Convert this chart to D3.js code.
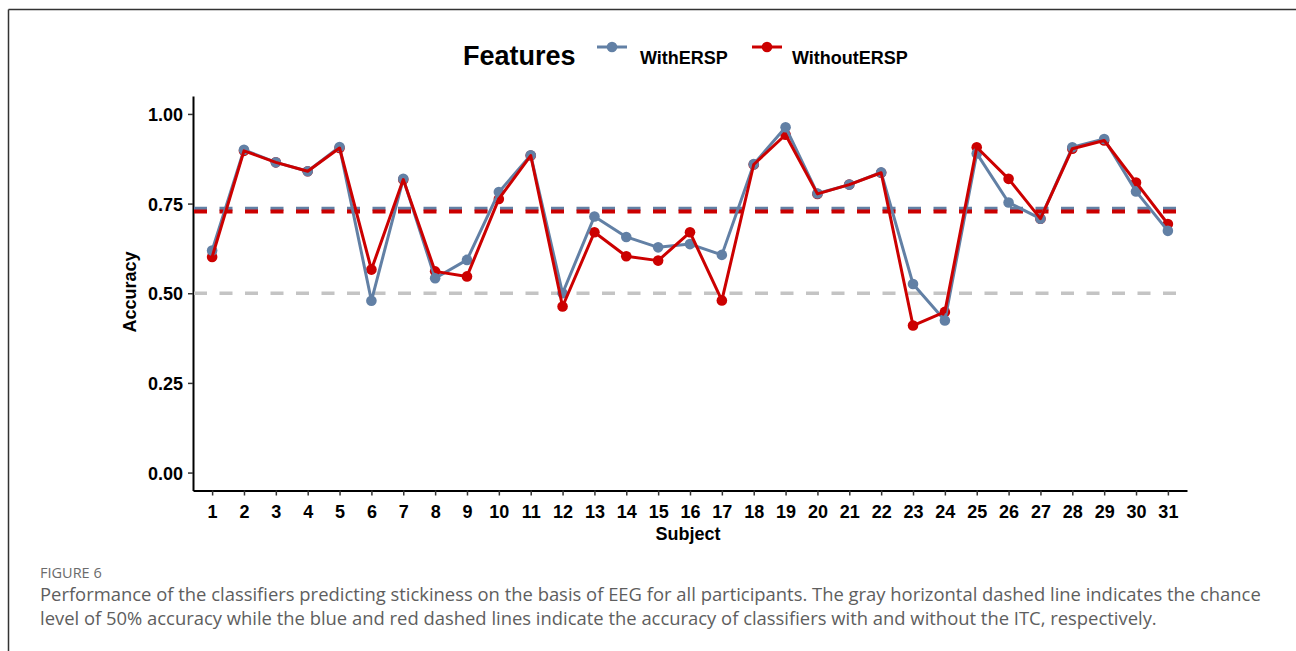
<!DOCTYPE html>
<html>
<head>
<meta charset="utf-8">
<script src="https://cdn.jsdelivr.net/npm/d3@7"></script>
<style>
  body { margin: 0; background: #fff; }
  svg { display: block; }
  text { font-family: "Liberation Sans", Arial, sans-serif; }
</style>
</head>
<body>
<div id="chart"></div>
<script>
// subjects on the x axis
var subjects = d3.range(1, 32).map(String);

// accuracy per subject
var withERSP = [0.619, 0.900, 0.865, 0.840, 0.908, 0.479, 0.819, 0.542, 0.593, 0.782,
                0.885, 0.500, 0.714, 0.657, 0.628, 0.637, 0.607, 0.860, 0.963, 0.778,
                0.803, 0.837, 0.526, 0.424, 0.890, 0.753, 0.708, 0.907, 0.930, 0.784, 0.674];
var withoutERSP = [0.601, 0.897, 0.865, 0.840, 0.905, 0.566, 0.817, 0.561, 0.547, 0.763,
                   0.884, 0.463, 0.670, 0.603, 0.591, 0.670, 0.480, 0.859, 0.942, 0.777,
                   0.803, 0.836, 0.410, 0.448, 0.907, 0.819, 0.708, 0.903, 0.926, 0.809, 0.693];

var yTicks = [0, 0.25, 0.5, 0.75, 1];
var chanceLevel = 0.5;

var seriesNames = ["WithERSP", "WithoutERSP"];
var seriesColors = ["#6280a5", "#cc0000"];

var captionHead = "FIGURE 6";
var captionLines = [
  "Performance of the classifiers predicting stickiness on the basis of EEG for all participants. The gray horizontal dashed line indicates the chance",
  "level of 50% accuracy while the blue and red dashed lines indicate the accuracy of classifiers with and without the ITC, respectively."
];

var width = 1296, height = 651;

var svg = d3.select("#chart")
    .append("svg")
    .attr("width", width)
    .attr("height", height);

// frame lines (top and left)
svg.append("line").attr("x1", 8.5).attr("x2", width).attr("y1", 9.5).attr("y2", 9.5)
    .attr("stroke", "#333").attr("stroke-width", 1.5);
svg.append("line").attr("x1", 8.5).attr("x2", 8.5).attr("y1", 9.5).attr("y2", height)
    .attr("stroke", "#333").attr("stroke-width", 1.5);

// scales
var x = d3.scalePoint()
    .domain(subjects)
    .range([193, 1187])
    .padding(0.6);

var y = d3.scaleLinear()
    .domain([-0.05, 1.05])
    .range([490.5, 96]);

// axes
var xAxis = svg.append("g")
    .attr("transform", "translate(0," + 490.5 + ")")
    .call(d3.axisBottom(x).tickSize(5).tickSizeOuter(0).tickPadding(6));

var yAxis = svg.append("g")
    .attr("transform", "translate(" + 193 + ",0)")
    .call(d3.axisLeft(y).tickValues(yTicks).tickFormat(d3.format(".2f")).tickSize(5).tickSizeOuter(0).tickPadding(5));

[xAxis, yAxis].forEach(function(ax) {
    ax.select(".domain").attr("stroke", "#000").attr("stroke-width", 2);
    ax.selectAll(".tick line").attr("stroke", "#333").attr("stroke-width", 1.5);
    ax.selectAll(".tick text")
        .attr("fill", "#000")
        .style("font-size", "18px")
        .style("font-weight", "bold")
        .style("font-family", "Liberation Sans, Arial, sans-serif");
});
xAxis.selectAll(".tick text").attr("dy", "0.92em");
yAxis.selectAll(".tick text").attr("dy", "0.36em");

// axis titles
svg.append("text")
    .attr("x", 688).attr("y", 540)
    .attr("text-anchor", "middle")
    .style("font-size", "18px").style("font-weight", "bold")
    .text("Subject");

svg.append("text")
    .attr("transform", "translate(136,292) rotate(-90)")
    .attr("text-anchor", "middle")
    .style("font-size", "18px").style("font-weight", "bold")
    .text("Accuracy");

// reference lines: chance level and per-series means
var x0 = x.range()[0], x1 = x.range()[1];

svg.append("line")
    .attr("x1", x0 + 1).attr("x2", x1)
    .attr("y1", y(chanceLevel)).attr("y2", y(chanceLevel))
    .attr("stroke", "#c4c4c4").attr("stroke-width", 3.5)
    .attr("stroke-dasharray", "13,12.5");

var allSeries = [withERSP, withoutERSP];
allSeries.forEach(function(vals, i) {
    var m = d3.mean(vals);
    svg.append("line")
        .attr("x1", x0 + 1).attr("x2", x1)
        .attr("y1", y(m)).attr("y2", y(m))
        .attr("stroke", seriesColors[i]).attr("stroke-width", 4)
        .attr("stroke-dasharray", "13,12.5");
});

var line = d3.line()
    .x(function(d, i) { return x(subjects[i]); })
    .y(function(d) { return y(d); });

// points first (red below blue), then lines (blue, then red on top)
[1, 0].forEach(function(i) {
    svg.append("g").selectAll("circle")
        .data(allSeries[i])
        .enter()
        .append("circle")
        .attr("cx", function(d, j) { return x(subjects[j]); })
        .attr("cy", function(d) { return y(d); })
        .attr("r", 5.3)
        .attr("fill", seriesColors[i]);
});

[0, 1].forEach(function(i) {
    svg.append("path")
        .datum(allSeries[i])
        .attr("d", line)
        .attr("fill", "none")
        .attr("stroke", seriesColors[i])
        .attr("stroke-width", 3)
        .attr("stroke-linejoin", "round");
});

// legend
var legend = svg.append("g");
legend.append("text")
    .attr("x", 463).attr("y", 65)
    .style("font-size", "27px").style("font-weight", "bold")
    .text("Features");

var keyX = [597, 752];
var labelX = [640, 792];
seriesNames.forEach(function(name, i) {
    legend.append("line")
        .attr("x1", keyX[i]).attr("x2", keyX[i] + 30)
        .attr("y1", 47).attr("y2", 47)
        .attr("stroke", seriesColors[i]).attr("stroke-width", 3);
    legend.append("circle")
        .attr("cx", keyX[i] + 15).attr("cy", 47).attr("r", 5.3)
        .attr("fill", seriesColors[i]);
    legend.append("text")
        .attr("x", labelX[i]).attr("y", 64)
        .style("font-size", "18px").style("font-weight", "bold")
        .text(name);
});

// caption
svg.append("text")
    .attr("x", 40).attr("y", 578)
    .attr("fill", "#6b6b6b")
    .style("font-family", "'Open Sans', 'Noto Sans', sans-serif")
    .style("font-size", "14.5px")
    .text(captionHead);

var capFont = 17;
var cap = svg.append("g");
captionLines.forEach(function(t, i) {
    cap.append("text")
        .attr("x", 40).attr("y", 601 + i * 24)
        .attr("fill", "#5e5e5e")
        .style("font-family", "'Open Sans', 'Noto Sans', sans-serif")
        .style("font-size", capFont + "px")
        .text(t);
});
// fit the caption to the width of the first line
var w0 = cap.select("text").node().getComputedTextLength();
var fitted = capFont * 1222 / w0;
cap.selectAll("text").style("font-size", fitted + "px");
</script>
</body>
</html>
